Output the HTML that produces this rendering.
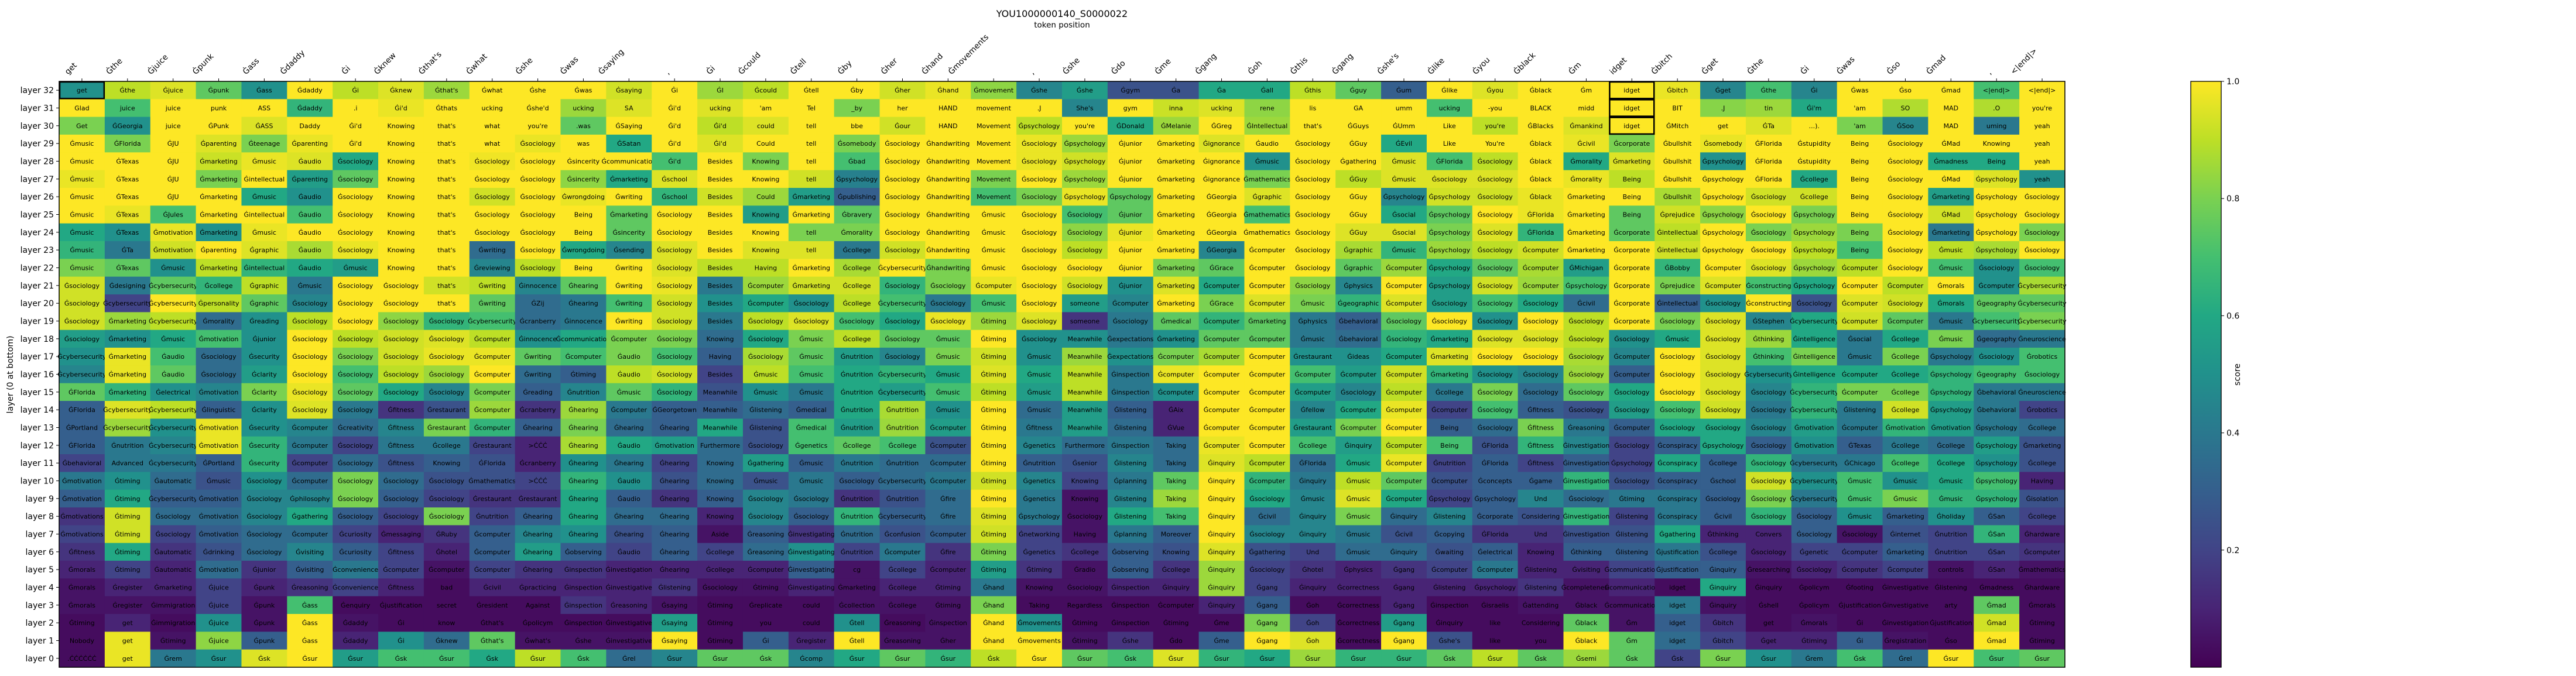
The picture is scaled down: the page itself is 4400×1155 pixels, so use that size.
<!DOCTYPE html>
<html><head><meta charset="utf-8">
<style>
html,body{margin:0;padding:0;background:#fff;}
svg{display:block;font-family:"DejaVu Sans","Liberation Sans",sans-serif;}
</style></head>
<body>
<svg id="chart" width="4400" height="1155" viewBox="0 0 4400 1155" xmlns="http://www.w3.org/2000/svg">
<text x="1814" y="29" font-size="16" text-anchor="middle">YOU1000000140_S0000022</text>
<text x="1814" y="47" font-size="13.5" text-anchor="middle">token position</text>
<text transform="translate(22,640) rotate(-90)" font-size="14" text-anchor="middle">layer (0 at bottom)</text>
<g id="cells"></g>
<g id="xticks"></g>
<g id="yticks"></g>
<rect x="101" y="139" width="3426" height="1001" fill="none" stroke="#000" stroke-width="1.5"/>
<defs><linearGradient id="vir" x1="0" y1="1" x2="0" y2="0">
<stop offset="0" stop-color="#440154"/><stop offset="0.1" stop-color="#482475"/><stop offset="0.2" stop-color="#414487"/><stop offset="0.3" stop-color="#355f8d"/><stop offset="0.4" stop-color="#2a788e"/><stop offset="0.5" stop-color="#21918c"/><stop offset="0.6" stop-color="#22a884"/><stop offset="0.7" stop-color="#44bf70"/><stop offset="0.8" stop-color="#7ad151"/><stop offset="0.9" stop-color="#bddf26"/><stop offset="1" stop-color="#fde725"/>
</linearGradient></defs>
<rect x="3742" y="139" width="52" height="1001" fill="url(#vir)" stroke="#000" stroke-width="1.3"/>
<g id="cbticks"></g>
<text transform="translate(3826,640) rotate(-90)" font-size="14" text-anchor="middle">score</text>
</svg>
<script>
const tokens = "get;Ġthe;Ġjuice;Ġpunk;Ġass;Ġdaddy;Ġi;Ġknew;Ġthat's;Ġwhat;Ġshe;Ġwas;Ġsaying;,;Ġi;Ġcould;Ġtell;Ġby;Ġher;Ġhand;Ġmovements;,;Ġshe;Ġdo;Ġme;Ġgang;Ġoh;Ġthis;Ġgang;Ġshe's;Ġlike;Ġyou;Ġblack;Ġm;idget;Ġbitch;Ġget;Ġthe;Ġi;Ġwas;Ġso;Ġmad;,;<|end|>".split(";");
const colorbarTicks = [0.2, 0.4, 0.6, 0.8, 1.0];
const highlighted = [[32,0],[32,34],[31,34],[30,34]];
const cellText = [
"get;Ġthe;Ġjuice;Ġpunk;Ġass;Ġdaddy;Ġi;Ġknew;Ġthat's;Ġwhat;Ġshe;Ġwas;Ġsaying;Ġi;ĠI;Ġcould;Ġtell;Ġby;Ġher;Ġhand;Ġmovement;Ġshe;Ġshe;Ġgym;Ġa;Ġa;Ġall;Ġthis;Ġguy;Ġum;Ġlike;Ġyou;Ġblack;Ġm;idget;Ġbitch;Ġget;Ġthe;Ġi;Ġwas;Ġso;Ġmad;<|end|>;<|end|>",
"Glad;juice;juice;punk;ASS;Ġdaddy;.i;Ġi'd;Ġthats;ucking;Ġshe'd;ucking;SA;Ġi'd;ucking;'am;Tel;_by;her;HAND;movement;.J;She's;gym;inna;ucking;rene;lis;GA;umm;ucking;-you;BLACK;midd;idget;BIT;.J;tin;Ġi'm;'am;SO;MAD;.O;you're",
"Get;ĠGeorgia;juice;ĠPunk;ĠASS;Daddy;Ġi'd;Knowing;that's;what;you're;.was;ĠSaying;Ġi'd;Ġi'd;could;tell;bbe;Ġour;HAND;Movement;Ġpsychology;you're;ĠDonald;ĠMelanie;ĠGreg;ĠIntellectual;that's;ĠGuys;ĠUmm;Like;you're;ĠBlacks;Ġmankind;idget;ĠMitch;get;ĠTa;...).;'am;ĠSoo;MAD;uming;yeah",
"Ġmusic;ĠFlorida;ĠJU;Ġparenting;Ġteenage;Ġparenting;Ġi'd;Knowing;that's;what;Ġsociology;was;ĠSatan;Ġi'd;Ġi'd;Could;tell;Ġsomebody;Ġsociology;Ġhandwriting;Movement;Ġsociology;Ġpsychology;Ġjunior;Ġmarketing;Ġignorance;Ġaudio;Ġsociology;ĠGuy;ĠEvil;Like;You're;Ġblack;Ġcivil;Ġcorporate;Ġbullshit;Ġsomebody;ĠFlorida;Ġstupidity;Being;Ġsociology;ĠMad;Knowing;yeah",
"Ġmusic;ĠTexas;ĠJU;Ġmarketing;Ġmusic;Ġaudio;Ġsociology;Knowing;that's;Ġsociology;Ġsociology;Ġsincerity;Ġcommunication;Ġi'd;Besides;Knowing;tell;Ġbad;Ġsociology;Ġhandwriting;Movement;Ġsociology;Ġpsychology;Ġjunior;Ġmarketing;Ġignorance;Ġmusic;Ġsociology;Ġgathering;Ġmusic;ĠFlorida;Ġsociology;Ġblack;Ġmorality;Ġmarketing;Ġbullshit;Ġpsychology;ĠFlorida;Ġstupidity;Being;Ġsociology;Ġmadness;Being;yeah",
"Ġmusic;ĠTexas;ĠJU;Ġmarketing;Ġintellectual;Ġparenting;Ġsociology;Knowing;that's;Ġsociology;Ġsociology;Ġsincerity;Ġmarketing;Ġschool;Besides;Knowing;tell;Ġpsychology;Ġsociology;Ġhandwriting;Movement;Ġsociology;Ġpsychology;Ġjunior;Ġmarketing;Ġignorance;Ġmathematics;Ġsociology;ĠGuy;Ġmusic;Ġsociology;Ġsociology;Ġblack;Ġmorality;Being;Ġbullshit;Ġpsychology;ĠFlorida;Ġcollege;Being;Ġsociology;ĠMad;Ġpsychology;yeah",
"Ġmusic;ĠTexas;ĠJU;Ġmarketing;Ġmusic;Ġaudio;Ġsociology;Knowing;that's;Ġsociology;Ġsociology;Ġwrongdoing;Ġwriting;Ġschool;Besides;Could;Ġmarketing;Ġpublishing;Ġsociology;Ġhandwriting;Movement;Ġsociology;Ġpsychology;Ġpsychology;Ġmarketing;ĠGeorgia;Ġgraphic;Ġsociology;ĠGuy;Ġpsychology;Ġpsychology;Ġsociology;Ġblack;Ġmarketing;Being;Ġbullshit;Ġpsychology;Ġsociology;Ġcollege;Being;Ġsociology;Ġmarketing;Ġpsychology;Ġsociology",
"Ġmusic;ĠTexas;ĠJules;Ġmarketing;Ġintellectual;Ġaudio;Ġsociology;Knowing;that's;Ġsociology;Ġsociology;Being;Ġmarketing;Ġsociology;Besides;Knowing;Ġmarketing;Ġbravery;Ġsociology;Ġhandwriting;Ġmusic;Ġsociology;Ġsociology;Ġjunior;Ġmarketing;ĠGeorgia;Ġmathematics;Ġsociology;ĠGuy;Ġsocial;Ġpsychology;Ġsociology;ĠFlorida;Ġmarketing;Being;Ġprejudice;Ġpsychology;Ġsociology;Ġpsychology;Being;Ġsociology;ĠMad;Ġpsychology;Ġsociology",
"Ġmusic;ĠTexas;Ġmotivation;Ġmarketing;Ġmusic;Ġaudio;Ġsociology;Knowing;that's;Ġsociology;Ġsociology;Being;Ġsincerity;Ġsociology;Besides;Knowing;tell;Ġmorality;Ġsociology;Ġhandwriting;Ġmusic;Ġsociology;Ġsociology;Ġjunior;Ġmarketing;ĠGeorgia;Ġmathematics;Ġsociology;ĠGuy;Ġsocial;Ġpsychology;Ġsociology;ĠFlorida;Ġmarketing;Ġcorporate;Ġintellectual;Ġpsychology;Ġsociology;Ġpsychology;Being;Ġsociology;Ġmarketing;Ġpsychology;Ġsociology",
"Ġmusic;ĠTa;Ġmotivation;Ġparenting;Ġgraphic;Ġaudio;Ġsociology;Knowing;that's;Ġwriting;Ġsociology;Ġwrongdoing;Ġsending;Ġsociology;Besides;Knowing;tell;Ġcollege;Ġsociology;Ġhandwriting;Ġmusic;Ġsociology;Ġsociology;Ġjunior;Ġmarketing;ĠGeorgia;Ġcomputer;Ġsociology;Ġgraphic;Ġmusic;Ġpsychology;Ġsociology;Ġcomputer;Ġmarketing;Ġcorporate;Ġintellectual;Ġpsychology;Ġsociology;Ġpsychology;Being;Ġsociology;Ġmusic;Ġpsychology;Ġsociology",
"Ġmusic;ĠTexas;Ġmusic;Ġmarketing;Ġintellectual;Ġaudio;Ġmusic;Knowing;that's;Ġreviewing;Ġsociology;Being;Ġwriting;Ġsociology;Besides;Having;Ġmarketing;Ġcollege;Ġcybersecurity;Ġhandwriting;Ġmusic;Ġsociology;Ġsociology;Ġjunior;Ġmarketing;ĠGrace;Ġcomputer;Ġsociology;Ġgraphic;Ġcomputer;Ġpsychology;Ġsociology;Ġcomputer;ĠMichigan;Ġcorporate;ĠBobby;Ġcomputer;Ġsociology;Ġpsychology;Ġcomputer;Ġsociology;Ġmusic;Ġsociology;Ġsociology",
"Ġsociology;Ġdesigning;Ġcybersecurity;Ġcollege;Ġgraphic;Ġmusic;Ġsociology;Ġsociology;that's;Ġwriting;Ġinnocence;Ġhearing;Ġwriting;Ġsociology;Besides;Ġcomputer;Ġmarketing;Ġcollege;Ġsociology;Ġsociology;Ġcomputer;Ġsociology;Ġsociology;Ġjunior;Ġmarketing;Ġcomputer;Ġcomputer;Ġsociology;Ġphysics;Ġcomputer;Ġpsychology;Ġsociology;Ġcomputer;Ġpsychology;Ġcorporate;Ġprejudice;Ġcomputer;Ġconstructing;Ġpsychology;Ġcomputer;Ġcomputer;Ġmorals;Ġcomputer;Ġcybersecurity",
"Ġsociology;Ġcybersecurity;Ġcybersecurity;Ġpersonality;Ġgraphic;Ġsociology;Ġsociology;Ġsociology;that's;Ġwriting;ĠZij;Ġhearing;Ġwriting;Ġsociology;Besides;Ġcomputer;Ġsociology;Ġcollege;Ġcybersecurity;Ġsociology;Ġmusic;Ġsociology;someone;Ġcomputer;Ġmarketing;ĠGrace;Ġcomputer;Ġmusic;Ġgeographic;Ġcomputer;Ġsociology;Ġsociology;Ġsociology;Ġcivil;Ġcorporate;Ġintellectual;Ġsociology;Ġconstructing;Ġsociology;Ġcomputer;Ġsociology;Ġmorals;Ġgeography;Ġcybersecurity",
"Ġsociology;Ġmarketing;Ġcybersecurity;Ġmorality;Ġreading;Ġsociology;Ġsociology;Ġsociology;Ġsociology;Ġcybersecurity;Ġcranberry;Ġinnocence;Ġwriting;Ġsociology;Besides;Ġsociology;Ġsociology;Ġsociology;Ġsociology;Ġsociology;Ġtiming;Ġsociology;someone;Ġsociology;Ġmedical;Ġcomputer;Ġmarketing;Ġphysics;Ġbehavioral;Ġsociology;Ġsociology;Ġsociology;Ġsociology;Ġsociology;Ġcorporate;Ġsociology;Ġsociology;ĠStephen;Ġcybersecurity;Ġcomputer;Ġcomputer;Ġmusic;Ġcybersecurity;Ġcybersecurity",
"Ġsociology;Ġmarketing;Ġmusic;Ġmotivation;Ġjunior;Ġsociology;Ġsociology;Ġsociology;Ġsociology;Ġcomputer;Ġinnocence;Ġcommunication;Ġcomputer;Ġsociology;Knowing;Ġsociology;Ġmusic;Ġcollege;Ġsociology;Ġmusic;Ġtiming;Ġsociology;Meanwhile;Ġexpectations;Ġmarketing;Ġcomputer;Ġcomputer;Ġmusic;Ġbehavioral;Ġsociology;Ġmarketing;Ġsociology;Ġsociology;Ġsociology;Ġsociology;Ġmusic;Ġsociology;Ġthinking;Ġintelligence;Ġsocial;Ġcollege;Ġmusic;Ġgeography;Ġneuroscience",
"Ġcybersecurity;Ġmarketing;Ġaudio;Ġsociology;Ġsecurity;Ġsociology;Ġsociology;Ġsociology;Ġsociology;Ġcomputer;Ġwriting;Ġcomputer;Ġaudio;Ġsociology;Having;Ġsociology;Ġmusic;Ġnutrition;Ġsociology;Ġmusic;Ġtiming;Ġmusic;Meanwhile;Ġexpectations;Ġcomputer;Ġcomputer;Ġcomputer;Ġrestaurant;Ġideas;Ġcomputer;Ġmarketing;Ġsociology;Ġsociology;Ġsociology;Ġcomputer;Ġsociology;Ġsociology;Ġthinking;Ġintelligence;Ġmusic;Ġcollege;Ġpsychology;Ġsociology;Ġrobotics",
"Ġcybersecurity;Ġmarketing;Ġaudio;Ġsociology;Ġclarity;Ġsociology;Ġsociology;Ġsociology;Ġsociology;Ġcomputer;Ġwriting;Ġtiming;Ġaudio;Ġsociology;Besides;Ġmusic;Ġmusic;Ġnutrition;Ġcybersecurity;Ġmusic;Ġtiming;Ġmusic;Meanwhile;Ġinspection;Ġcomputer;Ġcomputer;Ġcomputer;Ġcomputer;Ġcomputer;Ġcomputer;Ġmarketing;Ġsociology;Ġsociology;Ġsociology;Ġcomputer;Ġsociology;Ġsociology;Ġcybersecurity;Ġintelligence;Ġcomputer;Ġcollege;Ġpsychology;Ġgeography;Ġsociology",
"ĠFlorida;Ġmarketing;Ġelectrical;Ġmotivation;Ġclarity;Ġsociology;Ġsociology;Ġsociology;Ġsociology;Ġcomputer;Ġreading;Ġnutrition;Ġmusic;Ġsociology;Meanwhile;Ġmusic;Ġmusic;Ġnutrition;Ġcybersecurity;Ġmusic;Ġtiming;Ġmusic;Meanwhile;Ġinspection;Ġcomputer;Ġcomputer;Ġcomputer;Ġcomputer;Ġsociology;Ġcomputer;Ġcollege;Ġsociology;Ġsociology;Ġsociology;Ġsociology;Ġsociology;Ġsociology;Ġsociology;Ġcybersecurity;Ġcomputer;Ġcollege;Ġpsychology;Ġbehavioral;Ġneuroscience",
"ĠFlorida;Ġcybersecurity;Ġcybersecurity;Ġlinguistic;Ġclarity;Ġsociology;Ġsociology;Ġfitness;Ġrestaurant;Ġcomputer;Ġcranberry;Ġhearing;Ġcomputer;ĠGeorgetown;Meanwhile;Ġlistening;Ġmedical;Ġnutrition;Ġnutrition;Ġmusic;Ġtiming;Ġmusic;Meanwhile;Ġlistening;ĠAix;Ġcomputer;Ġcomputer;Ġfellow;Ġcomputer;Ġcomputer;Ġcomputer;Ġsociology;Ġfitness;Ġsociology;Ġsociology;Ġsociology;Ġsociology;Ġsociology;Ġcybersecurity;Ġlistening;Ġcollege;Ġpsychology;Ġbehavioral;Ġrobotics",
"ĠPortland;Ġcybersecurity;Ġcybersecurity;Ġmotivation;Ġsecurity;Ġcomputer;Ġcreativity;Ġfitness;Ġrestaurant;Ġcomputer;Ġhearing;Ġhearing;Ġhearing;Ġhearing;Meanwhile;Ġlistening;Ġmedical;Ġnutrition;Ġnutrition;Ġcomputer;Ġtiming;Ġfitness;Meanwhile;Ġlistening;ĠVue;Ġcomputer;Ġcomputer;Ġrestaurant;Ġcomputer;Ġcomputer;Being;Ġsociology;Ġfitness;Ġreasoning;Ġcomputer;Ġsociology;Ġsociology;Ġsociology;Ġmotivation;Ġcomputer;Ġmotivation;Ġmotivation;Ġpsychology;Ġcollege",
"ĠFlorida;Ġnutrition;Ġcybersecurity;Ġmotivation;Ġsecurity;Ġcomputer;Ġsociology;Ġfitness;Ġcollege;Ġrestaurant;>ĊĊĊ;Ġhearing;Ġaudio;Ġmotivation;Furthermore;Ġsociology;Ġgenetics;Ġcollege;Ġcollege;Ġcomputer;Ġtiming;Ġgenetics;Furthermore;Ġinspection;Taking;Ġcomputer;Ġcomputer;Ġcollege;Ġinquiry;Ġcomputer;Being;ĠFlorida;Ġfitness;Ġinvestigation;Ġsociology;Ġconspiracy;Ġpsychology;Ġsociology;Ġmotivation;ĠTexas;Ġcollege;Ġcollege;Ġpsychology;Ġmarketing",
"Ġbehavioral;Advanced;Ġcybersecurity;ĠPortland;Ġsecurity;Ġcomputer;Ġsociology;Ġfitness;Knowing;ĠFlorida;Ġcranberry;Ġhearing;Ġhearing;Ġhearing;Knowing;Ġgathering;Ġmusic;Ġnutrition;Ġnutrition;Ġcomputer;Ġtiming;Ġnutrition;Ġsenior;Ġlistening;Taking;Ġinquiry;Ġcomputer;ĠFlorida;Ġmusic;Ġcomputer;Ġnutrition;ĠFlorida;Ġfitness;Ġinvestigation;Ġpsychology;Ġconspiracy;Ġcollege;Ġsociology;Ġcybersecurity;ĠChicago;Ġcollege;Ġcollege;Ġpsychology;Ġcollege",
"Ġmotivation;Ġtiming;Ġautomatic;Ġmusic;Ġsociology;Ġcomputer;Ġsociology;Ġsociology;Ġsociology;Ġmathematics;>ĊĊĊ;Ġhearing;Ġaudio;Ġhearing;Knowing;Ġmusic;Ġmusic;Ġsociology;Ġcybersecurity;Ġcomputer;Ġtiming;Ġgenetics;Knowing;Ġplanning;Taking;Ġinquiry;Ġcomputer;Ġinquiry;Ġmusic;Ġcomputer;Ġcomputer;Ġconcepts;Ġgame;Ġinvestigation;Ġsociology;Ġconspiracy;Ġschool;Ġsociology;Ġcybersecurity;Ġmusic;Ġmusic;Ġmusic;Ġpsychology;Having",
"Ġmotivation;Ġtiming;Ġcybersecurity;Ġmotivation;Ġsociology;Ġphilosophy;Ġsociology;Ġsociology;Ġsociology;Ġrestaurant;Ġrestaurant;Ġhearing;Ġaudio;Ġhearing;Knowing;Ġsociology;Ġsociology;Ġnutrition;Ġnutrition;Ġfire;Ġtiming;Ġgenetics;Knowing;Ġlistening;Taking;Ġinquiry;Ġsociology;Ġmusic;Ġmusic;Ġcomputer;Ġpsychology;Ġpsychology;Und;Ġsociology;Ġtiming;Ġconspiracy;Ġsociology;Ġsociology;Ġcybersecurity;Ġmusic;Ġmusic;Ġmusic;Ġpsychology;Ġisolation",
"Ġmotivations;Ġtiming;Ġsociology;Ġmotivation;Ġsociology;Ġgathering;Ġsociology;Ġsociology;Ġsociology;Ġnutrition;Ġhearing;Ġhearing;Ġhearing;Ġhearing;Knowing;Ġsociology;Ġsociology;Ġnutrition;Ġcybersecurity;Ġfire;Ġtiming;Ġpsychology;Ġsociology;Ġlistening;Taking;Ġinquiry;Ġcivil;Ġinquiry;Ġmusic;Ġinquiry;Ġlistening;Ġcorporate;Considering;Ġinvestigation;Ġlistening;Ġconspiracy;Ġcivil;Ġsociology;Ġsociology;Ġmusic;Ġmarketing;Ġholiday;ĠSan;Ġcollege",
"Ġmotivations;Ġtiming;Ġsociology;Ġmotivation;Ġsociology;Ġcomputer;Ġcuriosity;Ġmessaging;ĠRuby;Ġcomputer;Ġhearing;Ġhearing;Ġhearing;Ġhearing;Aside;Ġreasoning;Ġinvestigating;Ġnutrition;Ġconfusion;Ġcomputer;Ġtiming;Ġnetworking;Having;Ġplanning;Moreover;Ġinquiry;Ġsociology;Ġinquiry;Ġmusic;Ġcivil;Ġcopying;ĠFlorida;Und;Ġinvestigation;Ġlistening;Ġgathering;Ġthinking;Convers;Ġsociology;Ġsociology;Ġinternet;Ġnutrition;ĠSan;Ġhardware",
"Ġfitness;Ġtiming;Ġautomatic;Ġdrinking;Ġsociology;Ġvisiting;Ġcuriosity;Ġfitness;Ġhotel;Ġcomputer;Ġhearing;Ġobserving;Ġaudio;Ġhearing;Ġcollege;Ġreasoning;Ġinvestigating;Ġnutrition;Ġcomputer;Ġfire;Ġtiming;Ġgenetics;Ġcollege;Ġobserving;Knowing;Ġinquiry;Ġgathering;Und;Ġmusic;Ġinquiry;Ġwaiting;Ġelectrical;Knowing;Ġthinking;Ġlistening;Ġjustification;Ġcollege;Ġsociology;Ġgenetic;Ġcomputer;Ġmarketing;Ġnutrition;ĠSan;Ġcomputer",
"Ġmorals;Ġtiming;Ġautomatic;Ġmotivation;Ġjunior;Ġvisiting;Ġconvenience;Ġcomputer;Ġcomputer;Ġcomputer;Ġhearing;Ġinspection;Ġinvestigation;Ġhearing;Ġcollege;Ġcomputer;Ġinvestigating;cg;Ġcollege;Ġcomputer;Ġtiming;Ġtiming;Ġradio;Ġobserving;Ġcollege;Ġinquiry;Ġsociology;Ġhotel;Ġphysics;Ġgang;Ġcomputer;Ġcomputer;Ġlistening;Ġvisiting;Ġcommunication;Ġjustification;Ġinquiry;Ġresearching;Ġsociology;Ġcomputer;Ġcomputer;controls;ĠSan;Ġmathematics",
"Ġmorals;Ġregister;Ġmarketing;Ġjuice;Ġpunk;Ġreasoning;Ġconvenience;Ġfitness;bad;Ġcivil;Ġpracticing;Ġinspection;Ġinvestigative;Ġlistening;Ġsociology;Ġtiming;Ġinvestigating;Ġmarketing;Ġcollege;Ġtiming;Ġhand;Knowing;Ġsociology;Ġinspection;Ġinquiry;Ġinquiry;Ġgang;Ġinquiry;Ġcorrectness;Ġgang;Ġlistening;Ġpsychology;Ġlistening;Ġcompleteness;Ġcommunication;idget;Ġinquiry;Ġinquiry;Ġpolicym;Ġfooting;Ġinvestigative;Ġlistening;Ġmadness;Ġhardware",
"Ġmorals;Ġregister;Ġimmigration;Ġjuice;Ġpunk;Ġass;Ġenquiry;Ġjustification;secret;Ġresident;Against;Ġinspection;Ġreasoning;Ġsaying;Ġtiming;Ġreplicate;could;Ġcollection;Ġcollege;Ġtiming;Ġhand;Taking;Regardless;Ġinspection;Ġcomputer;Ġinquiry;Ġgang;Ġoh;Ġcorrectness;Ġgang;Ġinspection;Ġisraelis;Ġattending;Ġblack;Ġcommunication;idget;Ġinquiry;Ġshell;Ġpolicym;Ġjustification;Ġinvestigative;arty;Ġmad;Ġmorals",
"Ġtiming;get;Ġimmigration;Ġjuice;Ġpunk;Ġass;Ġdaddy;Ġi;know;Ġthat's;Ġpolicym;Ġinspection;Ġinvestigative;Ġsaying;Ġtiming;you;could;Ġtell;Ġreasoning;Ġinspection;Ġhand;Ġmovements;Ġtiming;Ġinspection;Ġtiming;Ġme;Ġgang;Ġoh;Ġcorrectness;Ġgang;Ġinquiry;like;Considering;Ġblack;Ġm;idget;Ġbitch;get;Ġmorals;Ġi;Ġinvestigation;Ġjustification;Ġmad;Ġtiming",
"Nobody;get;Ġtiming;Ġjuice;Ġpunk;Ġass;Ġdaddy;Ġi;Ġknew;Ġthat's;Ġwhat's;Ġshe;Ġinvestigative;Ġsaying;Ġtiming;Ġi;Ġregister;Ġtell;Ġreasoning;Ġher;Ġhand;Ġmovements;Ġtiming;Ġshe;Ġdo;Ġme;Ġgang;Ġoh;Ġcorrectness;Ġgang;Ġshe's;like;you;Ġblack;Ġm;idget;Ġbitch;Ġget;Ġtiming;Ġi;Ġregistration;Ġso;Ġmad;Ġtiming",
".ĊĊĊĊĊĊ;get;Ġrem;Ġsur;Ġsk;Ġsur;Ġsur;Ġsk;Ġsur;Ġsk;Ġsur;Ġsk;Ġrel;Ġsur;Ġsur;Ġsk;Ġcomp;Ġsur;Ġsur;Ġsur;Ġsk;Ġsur;Ġsur;Ġsk;Ġsur;Ġsur;Ġsur;Ġsur;Ġsur;Ġsur;Ġsk;Ġsur;Ġsk;Ġsemi;Ġsk;Ġsk;Ġsur;Ġsur;Ġrem;Ġsk;Ġrel;Ġsur;Ġsur;Ġsur"
];
const scores = [
[5,9,9.5,7.5,5,10,9,9.5,8.5,10, 10,10,9.3,10,8.5,9,10,10,9.3,9.7, 8.3,4.5,5.5,2.5,2.5,6,6,9,7.5,3, 10,9.5,10,10,10,9.7,4.5,7,4.5,10, 10,10,7,10],
[10,7,10,10,10,6.5,10,9.7,10,10, 10,8.5,9.5,10,9.5,10,10,8,10,10, 10,10,4.5,10,9.2,9.5,8.3,10,10,10, 7,10,10,10,10,10,8.2,8.5,6,10, 8.8,10,8.8,10],
[8,5,10,10,9.5,10,10,10,10,10, 10,7.5,10,10,9,9.5,10,10,9.3,10, 10,9,10,6,8.5,10,8.5,10,10,10, 10,9,10,9.5,10,10,10,9.5,10,8, 4.5,10,4,10],
[10,8,10,9.5,8,9.7,10,10,10,10, 9.7,10,6,10,9.5,10,10,8,10,10, 10,9.7,8.5,10,10,9.5,10,10,10,6, 10,10,10,9.7,8,10,9.7,10,10,10, 10,10,10,10],
[10,10,10,9.2,9.7,9.5,6,10,10,9.8, 10,10,10,7,10,8,10,7,10,10, 10,9.7,9.3,10,10,10,5,10,10,9.5, 7,9,10,6,9.5,10,5,10,10,10, 10,6,6,10],
[9.7,10,10,8,10,5.5,7.5,10,10,10, 10,8.3,6,9.5,10,10,9.3,4.3,10,10, 8,10,8.5,10,10,10,8,10,9,9.5, 9.5,9.5,10,9.7,9,10,10,10,6,10, 10,10,9.5,5],
[10,10,10,10,6,5,10,10,10,9.3, 10,9.7,10,6.5,9.3,8.5,5.5,3,10,10, 7,8,9.7,7.5,10,10,9.5,10,10,4.5, 9.3,9.3,9.7,10,10,8.7,10,9.3,9.3,10, 10,5.5,10,10],
[10,9.7,7,10,10,7,10,10,10,10, 10,10,7.5,10,10,5.5,10,7.5,10,10, 10,10,7,7.5,10,10,7,10,10,6, 7.5,10,9.7,10,7.5,9.3,8.3,10,8,10, 10,9.3,10,10],
[6,5,9.7,5,9.7,10,10,10,10,10, 10,10,7.5,10,10,10,8,8,10,10, 10,10,8.3,9.7,10,10,10,10,9.5,9.5, 8,9.5,6.5,10,7.5,9,10,8,8.5,8, 10,4,10,8],
[6.5,4,9.3,10,9.5,8.7,9.7,10,10,3.5, 10,6,4.5,9.5,10,9.5,9.5,4,9.3,10, 10,10,9,10,10,4.5,10,10,8.7,6.5, 8.5,9,9.3,10,10,9.3,10,10,9,7, 10,9,8.7,10],
[8,7.5,5,9,6.5,6,5.5,10,10,4.5, 9,10,10,9.5,9,9,10,8.7,10,8, 10,10,10,10,8,7.5,10,10,7.5,8.5, 6,7.5,8.7,5.5,10,6.5,10,9.5,8.5,9, 10,7,5,7],
[9.3,4,7.5,6.5,9,4,10,10,9.3,9, 4.5,7.5,10,9.7,4,8.5,9.3,9.3,6.5,8, 9.7,10,9.3,5,9.5,6,10,8.3,4.5,10, 5.5,9.3,8.5,7,10,8,9.5,7,6,10, 9,10,5,8.7],
[9.3,2,10,9,7.5,4.5,10,10,10,7.5, 3.5,4,7,9.3,5,6,5,9,7,4, 7,10,5.5,4.5,10,8,9.5,8,6.5,9.5, 5.5,7,6,3.5,10,3,5,10,2.5,9.5, 9.3,6,7.5,7.5],
[9.3,8.5,9,3.5,5,9,10,8.3,6.5,7, 3.5,4,10,9.3,4,9,9.5,7,6,9.7, 8.5,9.5,1.5,4,7.5,6.5,7.5,4,3,7.5, 10,5,10,9,10,8,9.5,4.5,6,9.3, 7.5,4,7,8],
[5.5,5,6,7,5,10,9,9.3,9.5,9, 5,6,8,8,3.5,6,8,9,7.5,7.5, 10,5,5,4,5,7.5,7.5,4,3.5,6.5, 6,9.5,9.5,9,5,6,9.5,8.5,6,4, 6,8,3.5,4],
[5,9.7,7,3.5,5,10,8,9.3,9.7,9.7, 7.5,7,8,7,3,8.7,7.5,5.5,4.5,8, 9.3,5,8.5,5,8,8.7,10,5,5,6, 9.5,10,10,8.7,4.5,10,9.5,7,8,4, 8,4,5,7],
[4.5,9.7,7.5,3.5,5.5,10,7,9,8.5,10, 3.5,3,9,9.3,2,9,7,6,6.5,6, 9.5,6,9,4,9.7,10,10,7,5.5,9.3, 6.5,5,4.5,8.5,3,10,9.5,5,6,6, 6,6.5,7,7],
[7.5,6.5,5,4.5,8,9.7,7.5,6,4.5,8, 3,4.5,7.5,6.5,2.5,5,4,6,5.5,7, 9,5.5,9,4,5,10,10,5.5,4.5,9, 4,8,3.5,7.5,6,10,9.5,4.5,6.5,8, 8,6.5,4,4],
[3,9.5,9,3,5,9.5,4,1.5,2.5,8.5, 1.5,8.5,4,3,3,3.5,3,6,8.7,5, 10,3.5,5.5,3,1,10,10,4.5,6,9.7, 2,7,3,2.5,5.5,7,9.3,4,6.5,4, 9.3,5.5,4,2],
[3,8.5,5,9.7,5,4.5,3.5,4.5,8,6.5, 3,8,3.5,3,6,2.5,7,5.5,8.5,5.5, 10,4,5.5,3.5,1,10,10,5.5,8,10, 3,3.5,8,4,3,6,6,4.5,5.5,4, 6.5,5.5,4,3.5],
[3,4,4.5,9.7,6.5,4,2,4,4,2, 1,8.7,6,5.5,3.5,2.5,7,7.5,7,2.5, 10,4.5,3.5,4,3.5,9.7,10,7,5.5,9, 7,2.5,6.5,4.5,2,3,6,3,5,3, 4,3.5,5.5,2.5],
[2,4,4,3,6.5,2,3.5,2.5,3,2.5, 1,5,4,2,3.5,5.5,3,4,3.5,3.5, 10,3,2.5,4.5,3.5,9.5,9,3.5,6,9.7, 2,3,2,3,2,6,3,6.5,4,4, 7,6,5,2.5],
[4,5,3.5,2.5,5,3.5,8,3.5,2.5,2.5, 2,6.5,5,2.5,3.5,2.5,4,3,3.5,4, 9.3,4.5,2,4,7.5,10,6.5,4,9,7.5, 2.5,3,3,6.5,2.5,3,3,9.3,5,7, 5,6,7,1],
[3,6,3,3,4.5,4.5,8,3,2,1.5, 1.5,6,3,1.5,3,4.5,4,1.5,2.5,3.5, 10,4,0.5,4.5,8.5,10,6,4.5,9.5,6, 2,3,4.5,3.5,4,4,3,8,4,7, 8,6.5,6.5,2.5],
[1.5,9.3,3.5,3.5,4.5,6,3,2,8,2, 3,6,3.5,3.5,1,4.5,3,6.5,3,3.5, 9.5,4,0.5,6,7,10,3.5,4.5,8,3.5, 4.5,3,2.5,6.5,2,4,3,6.5,3,5, 3,5,3,2],
[2,9.3,2,3,3.5,3.5,2,1,1.5,3, 4.5,5,2.5,3,0.5,3,1.5,3.5,2.5,3, 9.3,2,0.5,4,3,10,4.5,4.5,4,2.5, 3,1.5,1.5,2.5,2.5,6,1,1,3,0.5, 2.5,2,6.5,1],
[1.5,6,1.5,2.5,3.5,4.5,3,2,1,3, 5.5,3,2,3,2,3.5,5,2,4,1.5, 8,2,1.5,3,2.5,9.5,2.5,2,3.5,3.5, 2.5,3,1,3,3,4,2.5,1,2,2, 3,2,2,1.5],
[1,2,1,3.5,1.5,3,4,2,0.5,2, 1.5,1.5,1,1,1,1,3,0.5,2,1, 5.5,1.5,0.5,3,1.5,8.5,2,1.5,1,1.5, 2,4,1,1,2,3,3,0.5,1,1.5, 2,0.5,1,0.5],
[0.5,1,1,2,1,1.5,2,1,0.3,1, 1,1,1,1.5,0.5,0.5,1,0.5,1,1, 4,0.5,0.5,1,1,8.5,2,1,1,1, 1,1,1.5,0.5,1,0.3,6,0.3,0.3,0.3, 0.3,0.3,0.3,0.3],
[0.5,0.5,0.5,2,0.5,7,0.3,0.3,0.3,0.3, 0.3,1.5,1,0.5,0.3,0.3,0.3,0.5,0.5,0.5, 8,0.3,0.3,0.3,0.3,1,3,0.3,0.3,1, 0.3,0.3,0.5,0.5,0.5,4,0.5,0.3,0.3,0.3, 0.3,0.3,7.5,0.3],
[0.3,1,0.3,5,0.5,10,0.5,0.3,0.3,0.3, 0.3,0.3,0.3,5.5,0.3,0.3,0.3,5,0.3,0.5, 10,5,0.3,0.3,0.3,0.3,8,2,0.3,5.5, 0.3,0.3,0.3,7.5,0.5,3,1.5,0.3,0.5,0.3, 0.3,0.3,9.3,0.3],
[0.3,9.7,0.5,8.3,3,10,1,5,3.5,7.5, 0.5,0.5,0.5,10,0.3,3,1,10,0.5,0.5, 10,10,0.5,1.5,0.3,3,10,9.5,0.3,10, 2.5,0.3,0.3,10,7.5,3.5,2,1,1,3, 0.5,0.3,10,0.3],
[0.3,9.7,4,5,9.5,10,5.5,7,7,6, 9,7,3.5,4.5,7.5,7.5,4.5,6,7.5,6.5, 9,10,7.5,7,9.5,6.5,6,8.5,6.5,6.5, 7.5,9,7.5,8.5,7.5,2,8,5,4,7, 3.5,10,7,7.5]
];

const NS = "http://www.w3.org/2000/svg";
const PX0 = 101, PY0 = 139, PW = 3426, PH = 1001;
const nCols = tokens.length, nRows = scores.length;
const cw = PW / nCols, rh = PH / nRows;
const xOf = c => PX0 + c * cw;
const yOf = r => PY0 + r * rh;
const CB_Y0 = 139, CB_H = 1001;
const cbY = v => CB_Y0 + (1 - v) * CB_H;

const VIR = ["#440154","#482475","#414487","#355f8d","#2a788e","#21918c","#22a884","#44bf70","#7ad151","#bddf26","#fde725"];
function hex(h){return [parseInt(h.substr(1,2),16),parseInt(h.substr(3,2),16),parseInt(h.substr(5,2),16)];}
function viridis(t){
  t = Math.max(0, Math.min(1, t));
  const p = t * 10, i = Math.min(9, Math.floor(p)), f = p - i;
  const a = hex(VIR[i]), b = hex(VIR[i+1]);
  return "rgb(" + a.map((v,k)=>Math.round(v + (b[k]-v)*f)).join(",") + ")";
}
function mk(tag, attrs, parent){
  const e = document.createElementNS(NS, tag);
  for (const k in attrs) e.setAttribute(k, attrs[k]);
  parent.appendChild(e);
  return e;
}

const gCells = document.getElementById("cells");
for (let r = 0; r < nRows; r++) {
  const texts = cellText[r].split(";");
  for (let c = 0; c < nCols; c++) {
    const v = (scores[r][c] !== undefined ? scores[r][c] : 0) / 10;
    const rect = mk("rect", {x: xOf(c), y: yOf(r), width: cw + 0.6, height: rh + 0.6, fill: viridis(v)}, gCells);
    
    
    const t = mk("text", {x: xOf(c) + cw/2, y: yOf(r) + rh/2 + 4, "font-size": 11, "text-anchor": "middle", fill: "#000"}, gCells);
    
    
    t.textContent = texts[c] || "";
  }
}
for (const [layer, c] of highlighted) {
  const r = 32 - layer;
  const hb = mk("rect", {x: xOf(c) + 1, y: yOf(r) + 1, width: cw - 2, height: rh - 2, fill: "none", stroke: "#000", "stroke-width": 2.5}, gCells);
  
  
}

const gX = document.getElementById("xticks");
for (let c = 0; c < nCols; c++) {
  const cx = xOf(c) + cw/2;
  const tk = mk("line", {x1: cx, y1: PY0, x2: cx, y2: PY0 - 5, stroke: "#000", "stroke-width": 1}, gX);
  
  
  const lb = mk("text", {x: 0, y: 0, "font-size": 13.5, "text-anchor": "start"}, gX);
  
  
  lb.textContent = tokens[c];
  let L = 0;
  try { L = lb.getComputedTextLength(); } catch (e) { L = tokens[c].length * 8; }
  const sx = cx - 0.7071 * L - 8;
  const sy = PY0 - 11;
  lb.setAttribute("transform", "translate(" + sx + "," + sy + ") rotate(-45)");
}

const gY = document.getElementById("yticks");
for (let r = 0; r < nRows; r++) {
  const cy = yOf(r) + rh/2;
  const tk = mk("line", {x1: PX0, y1: cy, x2: PX0 - 5, y2: cy, stroke: "#000", "stroke-width": 1}, gY);
  
  
  const lb = mk("text", {x: PX0 - 9, y: cy + 5, "font-size": 14, "text-anchor": "end"}, gY);
  
  
  lb.textContent = "layer " + (nRows - 1 - r);
}

const gC = document.getElementById("cbticks");
for (const v of colorbarTicks) {
  const y = cbY(v);
  const tk = mk("line", {x1: 3794, y1: y, x2: 3799, y2: y, stroke: "#000", "stroke-width": 1}, gC);
  
  
  const lb = mk("text", {x: 3803, y: y + 5, "font-size": 14}, gC);
  
  
  lb.textContent = v.toFixed(1);
}
</script>
</body></html>
